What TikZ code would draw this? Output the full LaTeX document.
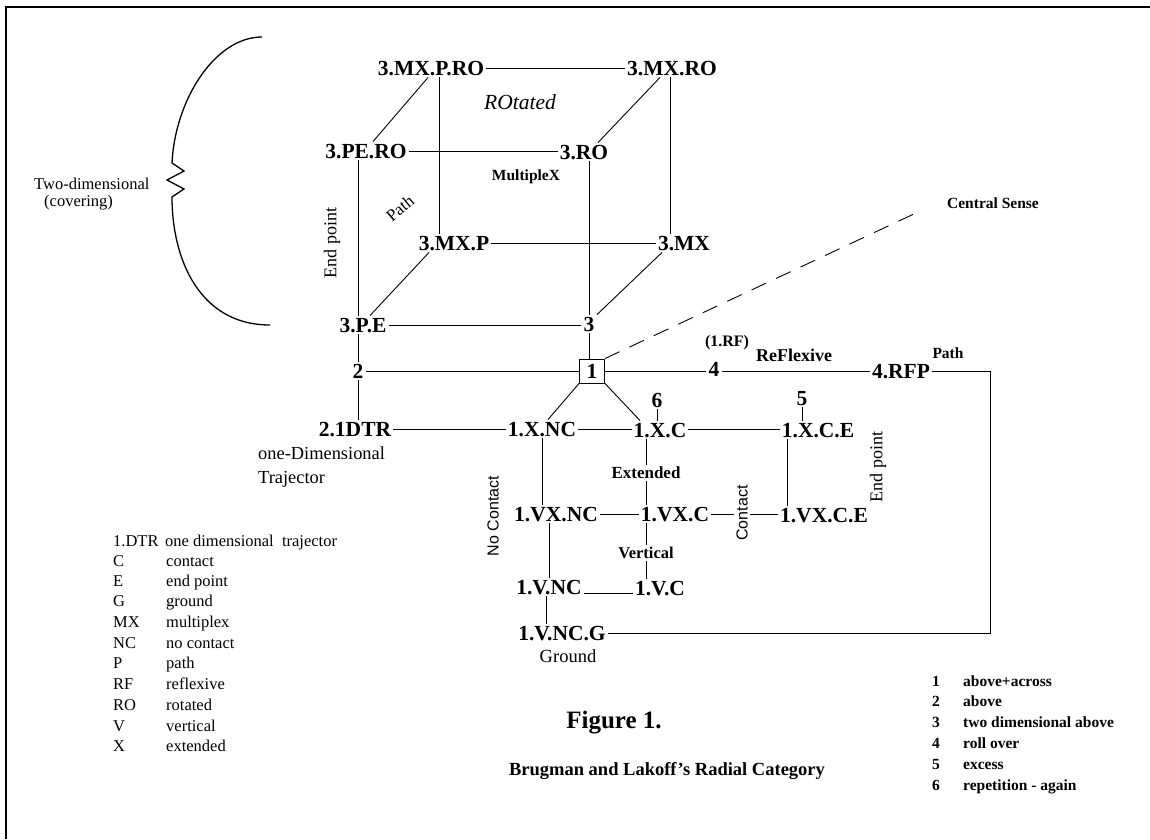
\documentclass[tikz,border=0pt]{standalone}
\usepackage{fontspec}
\setmainfont{Liberation Serif}
\newfontfamily\lsans{Liberation Sans}
\begin{document}
\begin{tikzpicture}[x=1pt,y=-1pt,
  every node/.style={inner sep=2pt},
  nd/.style={font=\fontsize{21.5}{24}\selectfont\bfseries, text height=14.5pt, text depth=0pt},
  lbl/.style={font=\fontsize{16.5}{19}\selectfont},
  blbl/.style={font=\fontsize{16}{19}\selectfont\bfseries},
  snl/.style={font=\fontsize{16}{19}\selectfont\lsans},
  leg/.style={font=\fontsize{16.5}{19}\selectfont, anchor=base west, inner sep=0pt},
  rleg/.style={font=\fontsize{15.5}{18}\selectfont\bfseries, anchor=base west, inner sep=0pt},
  conn/.style={line width=0.9pt},
  dashconn/.style={line width=0.9pt, dash pattern=on 16pt off 11pt},
]
\useasboundingbox (0,0) rectangle (1150,839);
\fill[white] (0,0) rectangle (1150,839);
% frame
\draw[line width=2pt] (6,839) -- (6,7) -- (1150,7);

% brace
\draw[line width=1.3pt] (262,37) .. controls (215,37) and (175,100) .. (172,163)
  -- (184,171) -- (167,180) -- (184,189) -- (172,197)
  .. controls (172,260) and (200,325) .. (270,325);
\node[lbl, anchor=base west, inner sep=0pt] (twod) at (34,189) {Two-dimensional};
\node[lbl, anchor=base west, inner sep=0pt] (cov) at (44,206) {(covering)};

% cube nodes
\node[nd] (mxpro) at (431,68) {3.MX.P.RO};
\node[nd] (mxro) at (672,68) {3.MX.RO};
\node[nd] (pero) at (366,151) {3.PE.RO};
\node[nd] (ro) at (584,152) {3.RO};
\node[nd] (mxp) at (454,243) {3.MX.P};
\node[nd] (mx) at (684,243) {3.MX};
\node[nd] (pe) at (363,325) {3.P.E};
\node[nd] (three) at (589,324) {3};
\node[nd, draw, line width=0.9pt, minimum width=25pt, minimum height=24pt, inner sep=0pt] (box) at (592,371) {1};
\node[nd] (two) at (358,371) {2};
\node[nd] (four) at (714,369) {4};
\node[nd] (rfp) at (901,371) {4.RFP};
\node[nd] (six) at (657,400) {6};
\node[nd] (five) at (802,398) {5};
\node[nd] (dtr) at (355,429) {2.1DTR};
\node[nd] (xnc) at (542,429) {1.X.NC};
\node[nd] (xc) at (660,430) {1.X.C};
\node[nd] (xce) at (818,430) {1.X.C.E};
\node[nd] (vxnc) at (556,514) {1.VX.NC};
\node[nd] (vxc) at (675,514) {1.VX.C};
\node[nd] (vxce) at (824,515) {1.VX.C.E};
\node[nd] (vnc) at (549,587) {1.V.NC};
\node[nd] (vc) at (660,588) {1.V.C};
\node[nd] (vncg) at (562,633) {1.V.NC.G};

% labels
\node[font=\fontsize{21.5}{24}\selectfont\itshape] (rot) at (520,102) {ROtated};
\node[font=\fontsize{15.5}{18}\selectfont\bfseries] (mult) at (526,177) {MultipleX};
\node[font=\fontsize{17}{19}\selectfont, rotate=40, inner sep=0pt] (pathc) at (400,208) {Path};
\node[font=\fontsize{18}{20}\selectfont, rotate=90] (endl) at (332,243) {End point};
\node[font=\fontsize{15.5}{18}\selectfont\bfseries] (cs) at (993,203) {Central Sense};
\node[blbl] (rf) at (727,343) {(1.RF)};
\node[font=\fontsize{18}{20}\selectfont\bfseries] (refl) at (794,355) {ReFlexive};
\node[font=\fontsize{15.5}{18}\selectfont\bfseries] (pathr) at (948,353) {Path};
\node[font=\fontsize{18.4}{20}\selectfont, anchor=base west, inner sep=0pt] (oned) at (258,459) {one-Dimensional};
\node[font=\fontsize{18.4}{20}\selectfont, anchor=base west, inner sep=0pt] (traj) at (258,483) {Trajector};
\node[snl, rotate=90] (noc) at (493,516) {No Contact};
\node[font=\fontsize{17}{19}\selectfont\bfseries] (ext) at (646,473) {Extended};
\node[font=\fontsize{16.5}{19}\selectfont\bfseries] (vert) at (646,553) {Vertical};
\node[snl, rotate=90] (cont) at (742,513) {Contact};
\node[font=\fontsize{18}{20}\selectfont, rotate=90] (endr) at (878,467) {End point};
\node[font=\fontsize{18.5}{20}\selectfont] (grd) at (568,656) {Ground};
\node[font=\fontsize{25}{28}\selectfont\bfseries] (fig) at (614,723) {Figure 1.};
\node[font=\fontsize{18.5}{21}\selectfont\bfseries] (ttl) at (667,771) {Brugman and Lakoff's Radial Category};

% left legend
\node[leg] (l1a) at (113,546) {1.DTR};
\node[leg] (l1b) at (165,546) {one dimensional\ \ trajector};
\node[leg] (l2a) at (113,566) {C};  \node[leg] (l2b) at (166,566) {contact};
\node[leg] (l3a) at (113,586) {E};  \node[leg] (l3b) at (166,586) {end point};
\node[leg] (l4a) at (113,606) {G};  \node[leg] (l4b) at (166,606) {ground};
\node[leg] (l5a) at (113,627) {MX}; \node[leg] (l5b) at (166,627) {multiplex};
\node[leg] (l6a) at (113,648) {NC}; \node[leg] (l6b) at (166,648) {no contact};
\node[leg] (l7a) at (113,668) {P};  \node[leg] (l7b) at (166,668) {path};
\node[leg] (l8a) at (113,689) {RF}; \node[leg] (l8b) at (166,689) {reflexive};
\node[leg] (l9a) at (113,710) {RO}; \node[leg] (l9b) at (166,710) {rotated};
\node[leg] (l10a) at (113,731) {V}; \node[leg] (l10b) at (166,731) {vertical};
\node[leg] (l11a) at (113,751) {X}; \node[leg] (l11b) at (166,751) {extended};

% right legend
\node[rleg] (r1a) at (932,686) {1}; \node[rleg] (r1b) at (963,686) {above+across};
\node[rleg] (r2a) at (932,706) {2}; \node[rleg] (r2b) at (963,706) {above};
\node[rleg] (r3a) at (932,727) {3}; \node[rleg] (r3b) at (963,727) {two dimensional above};
\node[rleg] (r4a) at (932,748) {4}; \node[rleg] (r4b) at (963,748) {roll over};
\node[rleg] (r5a) at (932,769) {5}; \node[rleg] (r5b) at (963,769) {excess};
\node[rleg] (r6a) at (932,790) {6}; \node[rleg] (r6b) at (963,790) {repetition - again};

% cube connectors
\draw[conn] (mxpro.east) -- (mxpro.east -| mxro.west);
\draw[conn] (pero.east) -- (pero.east -| ro.west);
\draw[conn] (mxp.east) -- (mxp.east -| mx.west);
\draw[conn] (pe.east) -- (pe.east -| three.west);
\draw[conn] ([xshift=-3pt]mxpro.south) -- ([xshift=7pt]pero.north);
\draw[conn] ([xshift=-12pt]mxro.south) -- ([xshift=14pt]ro.north);
\draw[conn] ([xshift=-25pt]mxp.south) -- ([xshift=7pt]pe.north);
\draw[conn] ([xshift=-22pt]mx.south) -- ([xshift=8pt]three.north);
\draw[conn] ([xshift=-8pt]pero.south) -- ([xshift=-8pt]pero.south |- pe.north);
\draw[conn] ([xshift=8pt]mxpro.south) -- ([xshift=8pt]mxpro.south |- mxp.north);
\draw[conn] ([xshift=-2pt]mxro.south) -- ([xshift=-2pt]mxro.south |- mx.north);
\draw[conn] (three.north |- ro.south) -- (three.north);
\draw[conn] (three.south) -- (three.south |- box.north);
\draw[conn] (two.north |- pe.south) -- (two.north);
\draw[conn] (two.south) -- (two.south |- dtr.north);

% central row
\draw[conn] (two.east) -- (two.east -| box.west);
\draw[conn] (box.east) -- (box.east -| four.west);
\draw[conn] (box.east -| four.east) -- (box.east -| rfp.west);
\coordinate (rc) at (990,0);
\draw[conn] (rfp.east) -- (rfp.east -| rc) -- (vncg.east -| rc) -- (vncg.east);
\draw[dashconn] (box.north east) -- ([xshift=-29pt,yshift=-10pt]cs.west);
\draw[conn] (box.south west) -- ([xshift=6pt]xnc.north);
\draw[conn] (box.south east) -- ([xshift=-20pt]xc.north);

% lower network
\draw[conn] (dtr.east) -- (dtr.east -| xnc.west);
\draw[conn] (xnc.east) -- (xnc.east -| xc.west);
\draw[conn] (xnc.east -| xc.east) -- (xnc.east -| xce.west);
\draw[conn] (six.south) -- (six.south |- xc.north);
\draw[conn] (five.south) -- (five.south |- xce.north);
\draw[conn] (xnc.south) -- (xnc.south |- vxnc.north);
\draw[conn] (vnc.north |- vxnc.south) -- (vnc.north);
\draw[conn] ([xshift=-3pt]vnc.south) -- ([xshift=-3pt]vnc.south |- vncg.north);
\draw[conn] (ext.north |- xc.south) -- (ext.north);
\draw[conn] (ext.south) -- (ext.south |- vxc.north);
\draw[conn] (vert.north |- vxc.south) -- (vert.north);
\draw[conn] (vert.south) -- (vert.south |- vc.north);
\draw[conn] (vxnc.east) -- (vxnc.east -| vxc.west);
\draw[conn] (vxc.east) -- (vxc.east -| cont.north);
\draw[conn] (vxc.east -| cont.south) -- (vxc.east -| vxce.west);
\draw[conn] ([xshift=-31pt]xce.south) -- ([xshift=-31pt]xce.south |- vxce.north);
\draw[conn] ([yshift=-6pt]vnc.east) -- ([yshift=-6pt]vnc.east -| vc.west);
\end{tikzpicture}
\end{document}
